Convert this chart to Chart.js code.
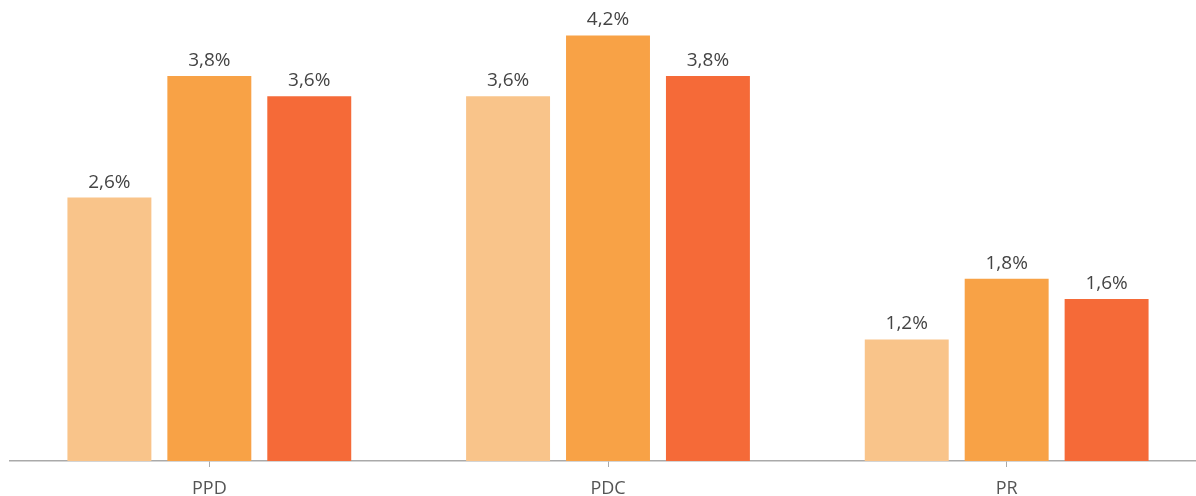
<!DOCTYPE html>
<html lang="en">
<head>
  <meta charset="UTF-8">
  <title>PPD / PDC / PR</title>
  <style>
    *{margin:0;padding:0;box-sizing:border-box;}
    html,body{width:1196px;height:496px;overflow:hidden;background:#fff;}
    #box{position:relative;width:1206px;height:496px;}
  </style>
  <script src="https://cdn.jsdelivr.net/npm/chart.js@4.4.0/dist/chart.umd.min.js"></script>
</head>
<body>
  <div id="box"><canvas id="chart"></canvas></div>
  <script>
    // data
    const categories = ["PPD", "PDC", "PR"];
    const seriesA = [2.6, 3.6, 1.2];
    const seriesB = [3.8, 4.2, 1.8];
    const seriesC = [3.6, 3.8, 1.6];
    const colors  = ["#F9C48A", "#F8A246", "#F56A38"];

    const fmt = v => v.toFixed(1).replace(".", ",") + "%";

    // value labels above each bar
    const valueLabels = {
      id: "valueLabels",
      afterDatasetsDraw(chart) {
        const c = chart.ctx;
        c.save();
        c.font = "19px 'Open Sans', 'Noto Sans', sans-serif";
        c.fillStyle = "#444";
        c.textAlign = "center";
        c.textBaseline = "alphabetic";
        chart.data.datasets.forEach((ds, i) => {
          chart.getDatasetMeta(i).data.forEach((bar, j) => {
            c.fillText(fmt(ds.data[j]), bar.x, bar.y - 10);
          });
        });
        c.restore();
      }
    };

    const mk = (data, col) => ({
      data, backgroundColor: col, borderWidth: 0,
      categoryPercentage: 0.752, barPercentage: 0.84
    });

    new Chart(document.getElementById("chart"), {
      type: "bar",
      data: {
        labels: categories,
        datasets: [mk(seriesA, colors[0]), mk(seriesB, colors[1]), mk(seriesC, colors[2])]
      },
      options: {
        responsive: true,
        maintainAspectRatio: false,
        animation: false,
        layout: { padding: { left: 10, right: 0, top: 0, bottom: 0 } },
        plugins: { legend: { display: false }, tooltip: { enabled: false } },
        scales: {
          x: {
            afterFit: s => { s.height = 35; },
            grid: { display: true, drawOnChartArea: false, offset: false, tickLength: 6, color: "#aaa" },
            border: { color: "#aaa", width: 1.5 },
            ticks: { color: "#555", padding: 11, font: { family: "'Open Sans', 'Noto Sans', sans-serif", size: 18 } }
          },
          y: { display: false, min: 0, max: 4.55 }
        }
      },
      plugins: [valueLabels]
    });
  </script>
</body>
</html>
